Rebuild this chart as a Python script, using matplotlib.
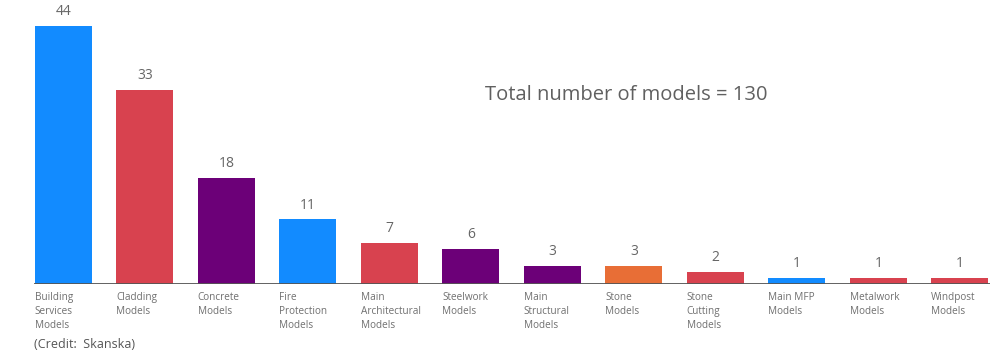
import matplotlib.pyplot as plt

categories = [
    "Building\nServices\nModels", "Cladding\nModels", "Concrete\nModels",
    "Fire\nProtection\nModels", "Main\nArchitectural\nModels", "Steelwork\nModels",
    "Main\nStructural\nModels", "Stone\nModels", "Stone\nCutting\nModels",
    "Main MFP\nModels", "Metalwork\nModels", "Windpost\nModels",
]
counts = [44, 33, 18, 11, 7, 6, 3, 3, 2, 1, 1, 1]
bar_colors = ["#128bff", "#d8424f", "#6c0078", "#128bff", "#d8424f", "#6c0078",
              "#6c0078", "#e86e36", "#d8424f", "#128bff", "#d8424f", "#d8424f"]
total = sum(counts)

plt.rcParams["font.family"] = ["Open Sans", "DejaVu Sans"]

fig = plt.figure(figsize=(10, 3.54), dpi=100)
ax = fig.add_axes([0.034, 0.1977, 0.956, 0.8023])

x = list(range(len(counts)))
width = 0.7
ax.bar(x, counts, width=width, color=bar_colors)

for xi, c in zip(x, counts):
    ax.annotate(str(c), (xi, c), xytext=(0, 5), textcoords="offset points",
                ha="center", va="bottom", fontsize=10, color="#666666")

# category labels, left aligned under each bar
for xi, lab in zip(x, categories):
    ax.annotate(lab, (xi - width / 2, 0), xytext=(0, -6), textcoords="offset points",
                ha="left", va="top", fontsize=7.2, color="#707070", linespacing=1.35,
                annotation_clip=False)

ax.set_xlim(-0.36, 11.37)
ax.set_ylim(0, 48.4)
ax.axhline(0, color="#555555", linewidth=1.3)

for s in ["top", "right", "left", "bottom"]:
    ax.spines[s].set_visible(False)
ax.set_xticks([])
ax.set_yticks([])

ax.text(0.619, 0.665, f"Total number of models = {total}", transform=ax.transAxes,
        ha="center", va="center", fontsize=14.5, color="#606060")

fig.text(0.034, 0.028, "(Credit:  Skanska)", ha="left", va="center",
         fontsize=9, color="#555555")

fig.savefig("out.png", dpi=100)
